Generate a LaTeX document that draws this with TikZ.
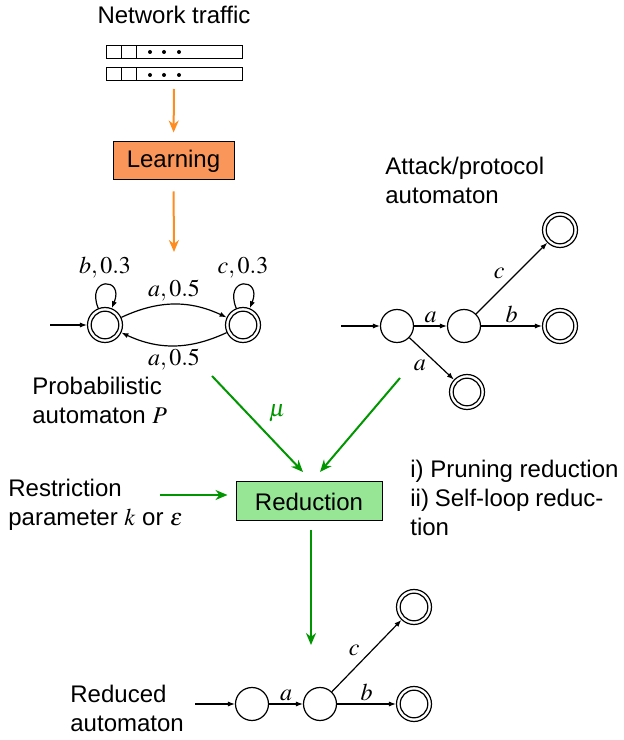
\documentclass[tikz,border=0pt]{standalone}
\usepackage{mathptmx}
\usepackage[no-math]{fontspec}
\setmainfont{Liberation Sans}
\usetikzlibrary{arrows.meta}
\definecolor{orarrow}{RGB}{255,140,30}
\definecolor{orfill}{RGB}{250,150,90}
\definecolor{grarrow}{RGB}{0,150,0}
\definecolor{grfill}{RGB}{150,230,150}
\begin{document}
\begin{tikzpicture}[x=0.5pt,y=0.5pt,
  font=\fontsize{12}{14.5}\selectfont,
  state/.style={circle,draw,line width=0.6pt,minimum size=16.5pt,inner sep=0pt},
  accept/.style={state,minimum size=17.5pt,
    path picture={\draw[line width=0.6pt] (path picture bounding box.center) circle[radius=6.9pt];}},
  tr/.style={line width=0.6pt,-{Latex[length=3.5pt,width=2.6pt]}},
  grar/.style={grarrow,line width=1pt,-{Stealth[length=6pt,width=5pt]}},
  orar/.style={orarrow,line width=1pt,-{Stealth[length=6pt,width=5pt]}},
  txt/.style={inner sep=0pt,align=left,anchor=west},
  lbl/.style={inner sep=1.5pt}]
\useasboundingbox (0,0) rectangle (624,740);

% Network traffic
\node[inner sep=0pt] (nt) at (174,725) {Network traffic};
\draw[line width=0.5pt] (106,681) rectangle (242,694) (121.7,681) -- (121.7,694) (136.7,681) -- (136.7,694);
\draw[line width=0.5pt] (106,659) rectangle (242,672) (121.7,659) -- (121.7,672) (136.7,659) -- (136.7,672);
\foreach \x in {150,164,179}{\fill (\x,688) circle[radius=1pt]; \fill (\x,665) circle[radius=1pt];}
\coordinate (pk) at (174,651);

\node[draw,line width=0.5pt,fill=orfill,minimum width=60.5pt,minimum height=19pt,inner sep=0pt] (learn) at (173.5,579) {Learning};
\coordinate (lp) at (174,488);
\draw[orar,shorten >=4.5pt] (pk) -- (learn.north);
\draw[orar,shorten <=5.5pt] (learn.south) -- (lp);

% Probabilistic automaton
\node[accept] (p1) at (105,415) {};
\node[accept] (p2) at (243,415) {};
\coordinate (pin) at (50,415);
\draw[tr] (pin) -- (p1);
\draw[tr] (p1.112) .. controls +(112:17pt) and +(68:17pt) .. (p1.68);
\draw[tr] (p2.112) .. controls +(112:17pt) and +(68:17pt) .. (p2.68);
\node[inner sep=0pt] (lb) at (105,472) {$b,0.3$};
\node[inner sep=0pt] (lc) at (243,472) {$c,0.3$};
\draw[tr] (p1) to[bend left=25] node[lbl,above] {$a,0.5$} (p2);
\draw[tr] (p2) to[bend left=25] node[lbl,below] {$a,0.5$} (p1);
\node[txt,text depth=0pt] (ptxt) at (32,340) {\baselineskip=13pt Probabilistic\\automaton $P$};

% Attack automaton
\node[txt] (atxt) at (385,560) {Attack/protocol\\automaton};
\node[state] (q0) at (397,414) {};
\node[state] (q1) at (464,414) {};
\node[accept] (f1) at (560,510) {};
\node[accept] (f2) at (560,414) {};
\node[accept] (f3) at (467,348) {};
\coordinate (qin) at (341,414);
\draw[tr] (qin) -- (q0);
\draw[tr] (q0) -- node[lbl,above] {$a$} (q1);
\draw[tr] (q1) -- node[lbl,above] {$b$} (f2);
\draw[tr] (q1) -- node[lbl,above left,pos=0.45] {$c$} (f1);
\draw[tr] (q0) -- node[lbl,below left,pos=0.45] {$a$} (f3);

% Reduction
\node[draw,line width=0.5pt,fill=grfill,minimum width=73pt,minimum height=19.5pt,inner sep=0pt] (red) at (309,238.5) {Reduction};
\coordinate (gl) at (212,364);
\coordinate (glt) at (303,268);
\coordinate (gr) at (400,362);
\coordinate (grt) at (320,268);
\draw[grar] (gl) -- node[pos=0.55,above right,inner sep=3pt,text=grarrow] {$\mu$} (glt);
\draw[grar] (gr) -- (grt);
\node[txt] (rtxt) at (8,235) {Restriction\\parameter $k$ or $\varepsilon$};
\coordinate (rs) at (160,245);
\draw[grar,shorten >=4pt] (rs) -- (red.west |- rs);
\node[txt] (itxt) at (410,242) {i) Pruning reduction\\\makebox[96.5pt][s]{ii) Self-loop reduc-}\\tion};
\coordinate (ro) at (311,95);
\draw[grar,shorten <=4.5pt] (red.south -| ro) -- (ro);

% Reduced automaton
\node[txt] (redtxt) at (70,32) {Reduced\\automaton};
\node[state] (r0) at (252,36) {};
\node[state] (r1) at (320,36) {};
\node[accept] (r2) at (414,133) {};
\node[accept] (r3) at (414,36) {};
\coordinate (rin) at (195,36);
\draw[tr] (rin) -- (r0);
\draw[tr] (r0) -- node[lbl,above] {$a$} (r1);
\draw[tr] (r1) -- node[lbl,above] {$b$} (r3);
\draw[tr] (r1) -- node[lbl,above left,pos=0.45] {$c$} (r2);
\end{tikzpicture}
\end{document}
